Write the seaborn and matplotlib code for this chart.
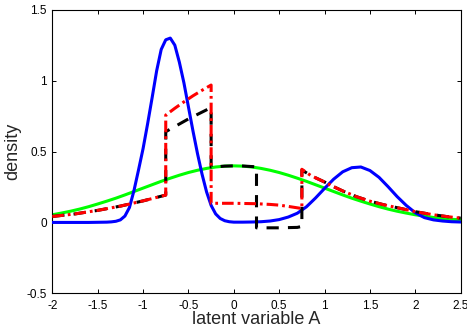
import pandas as pd
import seaborn as sns
import matplotlib.pyplot as plt

# -----------------------------
# Values
blue_x = [-2.0, -1.9, -1.8, -1.7, -1.6, -1.5, -1.4, -1.35, -1.3, -1.25, -1.2, -1.15,
          -1.1, -1.05, -1.0, -0.95, -0.9, -0.85, -0.8, -0.75, -0.7, -0.65, -0.6, -0.55,
          -0.5, -0.45, -0.4, -0.35, -0.3, -0.25, -0.2, -0.15, -0.1, -0.05, 0.0, 0.1,
          0.2, 0.3, 0.4, 0.5, 0.6, 0.7, 0.8, 0.9, 1.0, 1.1, 1.2, 1.3, 1.4, 1.5, 1.6,
          1.7, 1.8, 1.9, 2.0, 2.1, 2.2, 2.3, 2.4, 2.5]
blue_y = [0.0, 0.0, 0.0, 0.0, 0.0, 0.001, 0.002, 0.004, 0.008, 0.018, 0.045, 0.105,
          0.225, 0.37, 0.52, 0.695, 0.88, 1.07, 1.22, 1.288, 1.30, 1.25, 1.13, 0.985,
          0.815, 0.645, 0.485, 0.34, 0.215, 0.12, 0.06, 0.028, 0.012, 0.005, 0.002, 0.002,
          0.003, 0.005, 0.01, 0.02, 0.038, 0.065, 0.11, 0.172, 0.24, 0.305, 0.357, 0.386,
          0.391, 0.366, 0.318, 0.252, 0.182, 0.12, 0.068, 0.034, 0.018, 0.01, 0.005, 0.003]

green_x = [-2.0, -1.9, -1.8, -1.7, -1.6, -1.5, -1.4, -1.3, -1.2, -1.1, -1.0, -0.9,
           -0.8, -0.7, -0.6, -0.5, -0.4, -0.3, -0.2, -0.1, 0.0, 0.1, 0.2, 0.3, 0.4,
           0.5, 0.6, 0.7, 0.8, 0.9, 1.0, 1.1, 1.2, 1.3, 1.4, 1.5, 1.6, 1.7, 1.8, 1.9,
           2.0, 2.1, 2.2, 2.3, 2.4, 2.5]
green_y = [0.054, 0.066, 0.079, 0.094, 0.111, 0.13, 0.15, 0.171, 0.194, 0.218, 0.242,
           0.266, 0.29, 0.312, 0.333, 0.352, 0.368, 0.381, 0.391, 0.397, 0.399, 0.397,
           0.391, 0.381, 0.368, 0.352, 0.333, 0.312, 0.29, 0.266, 0.242, 0.218, 0.194,
           0.171, 0.15, 0.13, 0.111, 0.094, 0.079, 0.066, 0.054, 0.044, 0.035, 0.028,
           0.022, 0.018]

# piecewise curves, repeated x = vertical jump
red_x = [-2.0, -1.75, -1.5, -1.25, -1.0, -0.75, -0.75, -0.65, -0.55, -0.45, -0.35, -0.25,
         -0.25, 0.0, 0.25, 0.4, 0.5, 0.6, 0.7, 0.75, 0.75, 0.85, 1.0, 1.1, 1.2, 1.35,
         1.5, 1.65, 1.8, 2.0, 2.2, 2.35, 2.5]
red_y = [0.042, 0.06, 0.085, 0.115, 0.152, 0.193, 0.757, 0.805, 0.85, 0.893, 0.932, 0.969,
         0.135, 0.135, 0.132, 0.127, 0.122, 0.113, 0.103, 0.098, 0.375, 0.33, 0.285, 0.252,
         0.222, 0.182, 0.15, 0.125, 0.104, 0.076, 0.054, 0.041, 0.03]

black_x = [-2.0, -1.75, -1.5, -1.25, -1.0, -0.75, -0.75, -0.5, -0.25, -0.25, -0.1, 0.05,
           0.25, 0.25, 0.5, 0.7, 0.75, 0.75, 0.85, 1.0, 1.1, 1.2, 1.35, 1.5, 1.65, 1.8,
           2.0, 2.2, 2.35, 2.5]
black_y = [0.042, 0.06, 0.085, 0.115, 0.152, 0.193, 0.64, 0.73, 0.81, 0.39, 0.397, 0.40,
           0.392, -0.038, -0.038, -0.035, -0.028, 0.37, 0.33, 0.285, 0.252, 0.222, 0.182,
           0.15, 0.125, 0.104, 0.076, 0.054, 0.041, 0.03]

xticks = [-2, -1.5, -1, -0.5, 0, 0.5, 1, 1.5, 2, 2.5]
xtick_labels = ["-2", "-1.5", "-1", "-0.5", "0", "0.5", "1", "1.5", "2", "2.5"]
yticks = [-0.5, 0, 0.5, 1, 1.5]
ytick_labels = ["-0.5", "0", "0.5", "1", "1.5"]

# -----------------------------
# Style
sns.set_style("ticks")
plt.rcParams['font.family'] = ['Liberation Sans', 'DejaVu Sans']

fig = plt.figure(figsize=(4.67, 3.36), dpi=100)
ax = fig.add_axes([0.112, 0.127, 0.8745, 0.844])

lw = 2.2
sns.lineplot(x=green_x, y=green_y, color="#00ff00", linewidth=lw, sort=False,
             estimator=None, ax=ax, zorder=2)
sns.lineplot(x=blue_x, y=blue_y, color="#0000ff", linewidth=lw, sort=False,
             estimator=None, ax=ax, zorder=3)
sns.lineplot(x=black_x, y=black_y, color="black", linewidth=lw, sort=False,
             estimator=None, ax=ax, zorder=4, linestyle=(0, (4.0, 3.0)))
sns.lineplot(x=red_x, y=red_y, color="#ff0000", linewidth=lw, sort=False,
             estimator=None, ax=ax, zorder=5, linestyle=(0, (3.8, 1.3, 0.9, 1.3)))

ax.set_xlim(-2, 2.5)
ax.set_ylim(-0.5, 1.5)
ax.set_xticks(xticks)
ax.set_xticklabels(xtick_labels)
ax.set_yticks(yticks)
ax.set_yticklabels(ytick_labels)

for s in ax.spines.values():
    s.set_visible(True)
    s.set_linewidth(0.8)
    s.set_color("black")

ax.tick_params(direction="in", top=True, right=True, length=3, width=0.7,
               labelsize=8.5, colors="black")
ax.tick_params(axis="x", pad=5)
ax.tick_params(axis="y", pad=4)

ax.set_xlabel("latent variable A", fontsize=13, labelpad=-1)
ax.set_ylabel("density", fontsize=13, labelpad=4)

fig.savefig("out.png", dpi=100)
